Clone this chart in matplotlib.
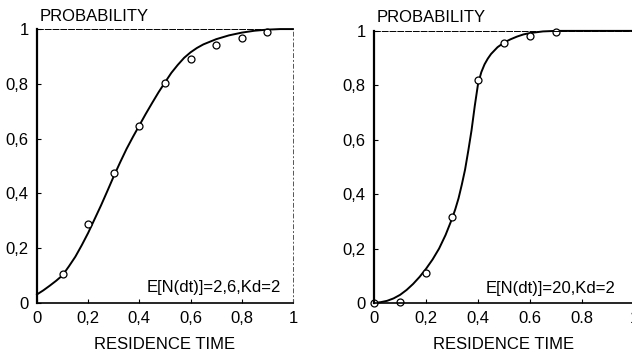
import matplotlib
matplotlib.use("Agg")
import matplotlib.pyplot as plt

plt.rcParams['font.family'] = ['Liberation Sans', 'DejaVu Sans']

# left panel: E[N(dt)]=2,6 , Kd=2
left_pts_x = [0.1, 0.2, 0.3, 0.4, 0.5, 0.6, 0.7, 0.8, 0.9]
left_pts_y = [0.105, 0.288, 0.473, 0.644, 0.802, 0.89, 0.943, 0.967, 0.988]
left_curve_x = [0.0, 0.025, 0.05, 0.075, 0.1, 0.125, 0.15, 0.175, 0.2, 0.225, 0.25,
                0.275, 0.3, 0.325, 0.35, 0.375, 0.4, 0.425, 0.45, 0.475, 0.5,
                0.525, 0.55, 0.575, 0.6, 0.625, 0.65, 0.7, 0.75, 0.8, 0.85, 0.9,
                0.95, 1.0]
left_curve_y = [0.03, 0.045, 0.062, 0.08, 0.10, 0.133, 0.168, 0.21, 0.255, 0.305, 0.355,
                0.408, 0.462, 0.513, 0.562, 0.606, 0.648, 0.69, 0.73, 0.769, 0.805,
                0.84, 0.869, 0.895, 0.915, 0.931, 0.944, 0.963, 0.977, 0.987, 0.994, 0.998,
                1.0, 1.0]

# right panel: E[N(dt)]=20 , Kd=2
right_pts_x = [0.0, 0.1, 0.2, 0.3, 0.4, 0.5, 0.6, 0.7]
right_pts_y = [0.0, 0.005, 0.109, 0.317, 0.82, 0.957, 0.98, 0.995]
right_curve_x = [0.0, 0.025, 0.05, 0.075, 0.1, 0.125, 0.15, 0.175, 0.2, 0.225, 0.25,
                 0.275, 0.3, 0.3125, 0.325, 0.3375, 0.35, 0.3625, 0.375, 0.3875, 0.4,
                 0.4125, 0.425, 0.4375, 0.45, 0.475, 0.5, 0.525, 0.55, 0.575, 0.6,
                 0.65, 0.7, 1.0]
right_curve_y = [0.0, 0.003, 0.008, 0.017, 0.03, 0.048, 0.07, 0.096, 0.126, 0.16, 0.2,
                 0.25, 0.31, 0.345, 0.385, 0.435, 0.49, 0.56, 0.635, 0.725, 0.805,
                 0.848, 0.877, 0.898, 0.915, 0.94, 0.957, 0.969, 0.979, 0.987, 0.992,
                 0.998, 1.0, 1.0]

ticks = [0, 0.2, 0.4, 0.6, 0.8, 1]
left_xlabels = ["0", "0,2", "0,4", "0,6", "0,8", "1"]
right_xlabels = ["0", "0,2", "0,4", "0.6", "0.8", "1"]
ylabels = ["0", "0,2", "0,4", "0,6", "0,8", "1"]

fig = plt.figure(figsize=(6.32, 3.59), dpi=100)
ax1 = fig.add_axes([0.0585, 0.157, 0.405, 0.762])
ax2 = fig.add_axes([0.592, 0.156, 0.411, 0.758])

panels = [
    (ax1, left_pts_x, left_pts_y, left_curve_x, left_curve_y, left_xlabels, "E[N(dt)]=2,6,Kd=2"),
    (ax2, right_pts_x, right_pts_y, right_curve_x, right_curve_y, right_xlabels, "E[N(dt)]=20,Kd=2"),
]

for ax, px, py, cx, cy, xl, note in panels:
    ax.plot(cx, cy, color='black', lw=1.4, clip_on=False, solid_joinstyle='round')
    ax.plot(px, py, 'o', mfc='white', mec='black', ms=5, mew=0.9, clip_on=False)
    ax.set_xlim(0, 1)
    ax.set_ylim(0, 1)
    ax.set_xticks(ticks)
    ax.set_xticklabels(xl)
    ax.set_yticks(ticks)
    ax.set_yticklabels(ylabels)
    ax.tick_params(direction='in', length=3, width=0.8, labelsize=12, pad=6)
    ax.spines['left'].set_linewidth(1.6)
    ax.spines['bottom'].set_linewidth(1.2)
    ax.spines['top'].set_linewidth(0.7)
    ax.spines['top'].set_linestyle((0, (6, 2)))
    ax.spines['right'].set_linewidth(0.7)
    ax.spines['right'].set_linestyle((0, (4, 3, 1, 3)))
    ax.spines['right'].set_color('#555555')
    ax.set_xlabel("RESIDENCE TIME", fontsize=12, labelpad=8)
    ax.text(0.01, 1.02, "PROBABILITY", transform=ax.transAxes, fontsize=12,
            ha='left', va='bottom')
    ax.text(0.955, 0.055, note, transform=ax.transAxes, fontsize=12,
            ha='right', va='center')

ax2.texts[-1].set_position((0.93, 0.055))

fig.savefig("out.png", dpi=100)
